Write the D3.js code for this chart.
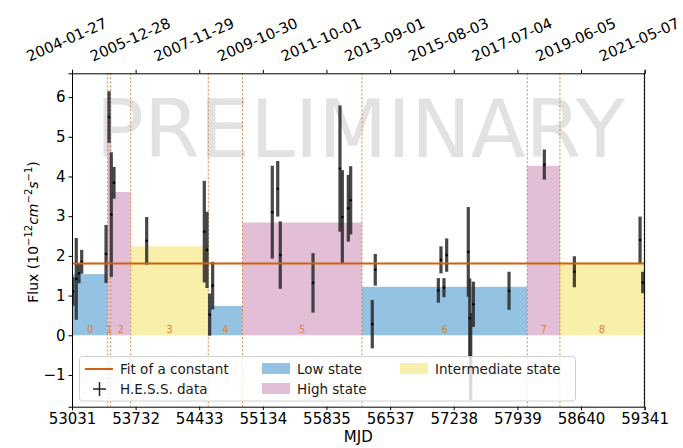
<!DOCTYPE html>
<html>
<head>
<meta charset="utf-8">
<script src="https://cdn.jsdelivr.net/npm/d3@7"></script>
<style>
  html, body { margin: 0; padding: 0; background: #fff; }
  svg { display: block; }
  text { font-family: "DejaVu Sans", sans-serif; }
</style>
</head>
<body>
<svg id="chart" width="683" height="448"></svg>
<script>
// ---------- data ----------
const tickMJD = [53031, 53732, 54433, 55134, 55835, 56537, 57238, 57939, 58640, 59341];
const tickDates = ["2004-01-27", "2005-12-28", "2007-11-29", "2009-10-30", "2011-10-01",
                   "2013-09-01", "2015-08-03", "2017-07-04", "2019-06-05", "2021-05-07"];
const yTicks = [-1, 0, 1, 2, 3, 4, 5, 6];

const blockEdges = [53040, 53424, 53457, 53678, 54533, 54910, 56227, 58048, 58408, 59334];
const blockFlux  = [1.54, 5.45, 3.61, 2.24, 0.74, 2.84, 1.22, 4.27, 1.83];
const blockState = ["low", "high", "high", "intermediate", "low", "high", "low", "high", "intermediate"];
const blockNames = ["0", "1", "2", "3", "4", "5", "6", "7", "8"];

const fitConstant = 1.81;

const mjd = [53042, 53078, 53108, 53138, 53406, 53439, 53464, 53494, 53854,
             54489, 54519, 54548, 54581, 55238, 55298, 55326, 55687,
             55984, 56010, 56076, 56102, 56340, 56373,
             57068, 57097, 57130, 57160, 57398, 57414, 57425, 57454, 57847,
             58236, 58567, 59291, 59320];
const flux = [1.10, 1.42, 1.56, 1.85, 2.05, 5.50, 3.04, 3.84, 2.38,
              2.61, 2.15, 0.52, 1.25, 3.10, 3.69, 2.02, 1.32,
              4.20, 2.98, 3.20, 3.40, 0.28, 1.65,
              1.13, 1.90, 1.20, 2.02, 2.10, 0.43, -0.54, 0.78, 1.12,
              4.30, 1.60, 2.40, 1.33];
const fluxErr = [0.36, 1.03, 0.25, 0.30, 0.73, 0.65, 1.57, 0.40, 0.60,
                 1.28, 0.96, 0.53, 0.60, 1.17, 0.70, 0.85, 0.75,
                 1.59, 1.18, 0.84, 0.86, 0.61, 0.40,
                 0.31, 0.34, 0.24, 0.42, 1.13, 1.00, 1.10, 0.57, 0.48,
                 0.38, 0.39, 0.59, 0.27];

const stateLabels = {low: "Low state", high: "High state", intermediate: "Intermediate state"};

// ---------- styles ----------
const stateColor = {low: "#93c2e2", high: "#e2bfd6", intermediate: "#f8efaa"};
const fitColor = "#d2600f";
const edgeColor = "#c87a35";
const labelColor = "#d8843c";

// ---------- layout ----------
const svg = d3.select("#chart");
const L = 72, R = 644.6, T = 73.3, B = 406.7;

const x = d3.scaleLinear().domain([53031, 59341]).range([L, R]);
const y = d3.scaleLinear().domain([-1.8, 6.6]).range([B, T]);

svg.append("defs").append("clipPath").attr("id", "clip")
  .append("rect").attr("x", L).attr("y", T).attr("width", R - L).attr("height", B - T);

const plot = svg.append("g").attr("clip-path", "url(#clip)");

// watermark
plot.append("text")
  .attr("x", (L + R) / 2 + 2).attr("y", 157)
  .attr("text-anchor", "middle")
  .attr("font-size", 80)
  .attr("fill", "#e2e2e2")
  .text("PRELIMINARY");

// blocks
const blocks = blockFlux.map((v, i) => ({x0: blockEdges[i], x1: blockEdges[i + 1], v, state: blockState[i], name: blockNames[i]}));

plot.selectAll("rect.block").data(blocks).enter().append("rect")
  .attr("class", "block")
  .attr("x", d => x(d.x0))
  .attr("width", d => x(d.x1) - x(d.x0))
  .attr("y", d => y(d.v))
  .attr("height", d => y(0) - y(d.v))
  .attr("fill", d => stateColor[d.state]);

// dashed boundaries
plot.selectAll("line.edge").data(blockEdges.slice(1)).enter().append("line")
  .attr("class", "edge")
  .attr("x1", d => x(d)).attr("x2", d => x(d))
  .attr("y1", T).attr("y2", B)
  .attr("stroke", edgeColor).attr("stroke-width", 0.9)
  .attr("stroke-dasharray", "2,2");

// block labels
plot.selectAll("text.bl").data(blocks).enter().append("text")
  .attr("class", "bl")
  .attr("x", d => (x(d.x0) + x(d.x1)) / 2)
  .attr("y", y(0) - 2)
  .attr("text-anchor", "middle")
  .attr("font-size", 10)
  .attr("fill", labelColor)
  .text(d => d.name);

// error bars
const pts = mjd.map((m, i) => ({m, f: flux[i], e: fluxErr[i]}));
plot.selectAll("rect.eb").data(pts).enter().append("rect")
  .attr("class", "eb")
  .attr("x", d => x(d.m) - 1.6)
  .attr("width", 3.2)
  .attr("y", d => y(d.f + d.e))
  .attr("height", d => y(d.f - d.e) - y(d.f + d.e))
  .attr("fill", "#2e2e2e")
  .attr("fill-opacity", 0.88);
plot.selectAll("circle.pt").data(pts).enter().append("circle")
  .attr("class", "pt")
  .attr("cx", d => x(d.m)).attr("cy", d => y(d.f))
  .attr("r", 1.3).attr("fill", "#000");

// fit line
plot.append("line")
  .attr("x1", L).attr("x2", R)
  .attr("y1", y(fitConstant)).attr("y2", y(fitConstant))
  .attr("stroke", fitColor).attr("stroke-width", 2);

// legend
const lg = svg.append("g");
lg.append("rect").attr("x", 79.5).attr("y", 356.5).attr("width", 496).attr("height", 44.5)
  .attr("rx", 3).attr("fill", "#fff").attr("fill-opacity", 0.8)
  .attr("stroke", "#d0d0d0").attr("stroke-width", 1);
const row1 = 369, row2 = 389;
lg.append("line").attr("x1", 85).attr("x2", 113).attr("y1", row1).attr("y2", row1)
  .attr("stroke", fitColor).attr("stroke-width", 2);
lg.append("line").attr("x1", 93).attr("x2", 106).attr("y1", row2).attr("y2", row2)
  .attr("stroke", "#222").attr("stroke-width", 1.5);
lg.append("line").attr("x1", 99.5).attr("x2", 99.5).attr("y1", row2 - 7).attr("y2", row2 + 7)
  .attr("stroke", "#222").attr("stroke-width", 1.5);
const legItems = [
  {t: "Fit of a constant", tx: 120, ty: row1},
  {t: "H.E.S.S. data", tx: 120, ty: row2},
  {t: stateLabels.low, tx: 297, ty: row1, px: 262, c: stateColor.low},
  {t: stateLabels.high, tx: 297, ty: row2, px: 262, c: stateColor.high},
  {t: stateLabels.intermediate, tx: 435, ty: row1, px: 400, c: stateColor.intermediate}
];
legItems.forEach(d => {
  if (d.px) lg.append("rect").attr("x", d.px).attr("y", d.ty - 6).attr("width", 28).attr("height", 11).attr("fill", d.c);
  lg.append("text").attr("x", d.tx).attr("y", d.ty).attr("dy", "0.35em")
    .attr("font-size", 13.5).attr("fill", "#1a1a1a").text(d.t);
});

// axes
const xAxisB = d3.axisBottom(x).tickValues(tickMJD).tickFormat(d3.format("d")).tickSize(3.5).tickPadding(3);
const gB = svg.append("g").attr("transform", `translate(0,${B})`).call(xAxisB);
gB.selectAll("text").attr("font-size", 15).attr("fill", "#000").style("font-family", "DejaVu Sans");

const xAxisT = d3.axisTop(x).tickValues(tickMJD).tickFormat((d, i) => tickDates[i]).tickSize(3.5);
const gT = svg.append("g").attr("transform", `translate(0,${T})`).call(xAxisT);
gT.selectAll("text")
  .attr("font-size", 14.8).attr("fill", "#000").style("font-family", "DejaVu Sans")
  .attr("text-anchor", "middle")
  .attr("dominant-baseline", "central")
  .attr("x", -6)
  .attr("y", -34)
  .attr("transform", "rotate(-24, -6, -34)");

const yAxis = d3.axisLeft(y).tickValues(yTicks)
  .tickFormat(d => d < 0 ? "\u2212" + Math.abs(d) : String(d)).tickSize(3.5).tickPadding(3);
const gL = svg.append("g").attr("transform", `translate(${L},0)`).call(yAxis);
gL.selectAll("text").attr("font-size", 15).attr("fill", "#000").style("font-family", "DejaVu Sans");

svg.append("line").attr("x1", R).attr("x2", R).attr("y1", T).attr("y2", B).attr("stroke", "#000");
svg.selectAll(".domain").attr("stroke", "#000");

// axis labels
svg.append("text").attr("x", (L + R) / 2).attr("y", 442).attr("text-anchor", "middle")
  .attr("font-size", 15).text("MJD");

const yl = svg.append("text").attr("transform", "translate(38,232) rotate(-90)")
  .attr("text-anchor", "middle").attr("font-size", 14);
yl.append("tspan").text("Flux (10");
yl.append("tspan").attr("font-size", 10).attr("dy", -6).text("\u221212");
yl.append("tspan").attr("dy", 6).attr("font-style", "italic").text("cm");
yl.append("tspan").attr("font-size", 10).attr("dy", -6).text("\u22122");
yl.append("tspan").attr("dy", 6).attr("font-style", "italic").text("s");
yl.append("tspan").attr("font-size", 10).attr("dy", -6).text("\u22121");
yl.append("tspan").attr("dy", 6).text(")");
</script>
</body>
</html>
